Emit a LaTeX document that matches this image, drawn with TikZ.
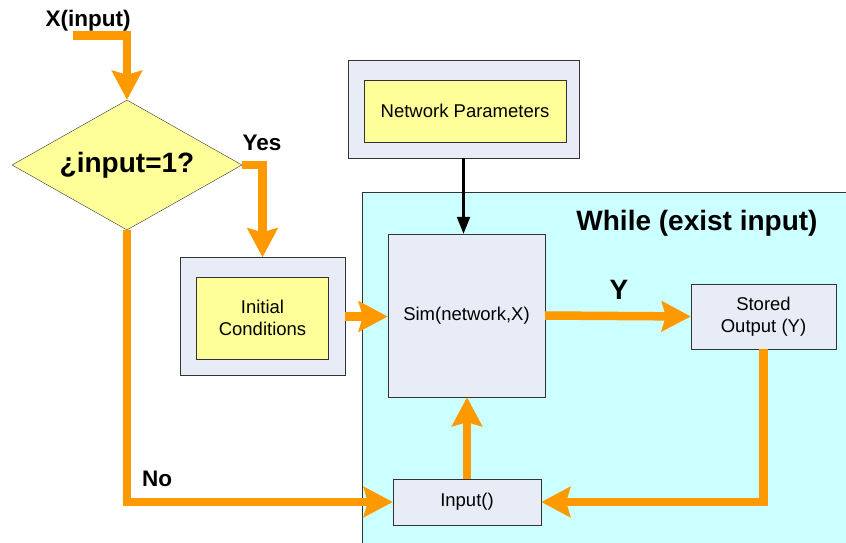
\documentclass[tikz,border=0pt]{standalone}
\usepackage{fontspec}
\setmainfont{Liberation Sans}
\usetikzlibrary{positioning,shapes.geometric,arrows.meta}

\definecolor{floworange}{HTML}{FF9900}
\definecolor{noteyellow}{HTML}{FFFF99}
\definecolor{boxblue}{HTML}{E7ECF7}
\definecolor{loopcyan}{HTML}{CCFFFF}

\begin{document}
\begin{tikzpicture}[x=1pt, y=-1pt,
    framenode/.style={rectangle, draw=black!80, fill=boxblue, thin, inner sep=0pt},
    yellownode/.style={rectangle, draw=black!80, fill=noteyellow, thin, inner sep=0pt, align=center, font=\fontsize{18.5}{22}\selectfont},
    blocknode/.style={framenode, align=center, font=\fontsize{18.5}{22}\selectfont},
    decisionnode/.style={diamond, draw=black!80, fill=noteyellow, thin, inner sep=0pt, shape aspect=1.77, minimum width=230pt, minimum height=130pt, font=\fontsize{28}{33}\selectfont\bfseries},
    labelnode/.style={inner sep=0pt, font=\fontsize{22.5}{27}\selectfont\bfseries},
    flow/.style={draw=floworange, line width=8.5pt, -{Stealth[length=29pt, width=30pt, inset=4pt]}},
    ctrl/.style={draw=black, line width=2.2pt, -{Triangle[length=17pt, width=13pt]}}
   ]
   \useasboundingbox (0,0) rectangle (846,543);

   % loop region
   \fill[loopcyan] (362,192) rectangle (846,543);
   \draw[black!80, thin] (362,543) |- (846,192);
   \node[labelnode, font=\fontsize{28}{33}\selectfont\bfseries] (looptitle) at (697,223) {While (exist input)};

   \node[framenode, minimum width=231pt, minimum height=98pt] (paramsframe) at (463.5,109) {};
   \node[yellownode, minimum width=202pt, minimum height=62pt] (params) at (465,111) {Network Parameters};
   \node[decisionnode] (cond) at (127,165) {¿input=1?};
   \node[framenode, minimum width=165pt, minimum height=118pt] (initframe) at (262.5,316.5) {};
   \node[yellownode, minimum width=132pt, minimum height=82pt] (init) at (262.5,318) {Initial\\Conditions};
   \node[blocknode, minimum width=157pt, minimum height=163pt] (sim) at (466.5,315.5) {Sim(network,X)};
   \node[blocknode, minimum width=145pt, minimum height=65pt] (stored) at (763.5,316.5) {Stored\\Output (Y)};
   \node[blocknode, minimum width=148pt, minimum height=46pt] (inputbox) at (467,502) {Input()};

   \node[labelnode] (xlabel) at (88,21) {X(input)};
   \node[labelnode] (yeslabel) at (262,143) {Yes};
   \node[labelnode] (nolabel) at (157,479) {No};
   \node[labelnode, font=\fontsize{28}{33}\selectfont\bfseries] (ylabel) at (619,290) {Y};
   \coordinate (xstart) at (73,35.5);

   \draw[flow] (xstart) -| (cond.north);
   \draw[flow] (cond.east) -| (initframe.north);
   \draw[flow] (cond.south) |- (inputbox.west);
   \draw[flow] (initframe.east) -- (initframe.east -| sim.west);
   \draw[flow] (sim.east) -- (stored.west);
   \draw[flow] (stored.south) |- (inputbox.east);
   \draw[flow] (inputbox.north) -- (inputbox.north |- sim.south);
   \draw[ctrl] (paramsframe.south) -- (paramsframe.south |- sim.north);
\end{tikzpicture}
\end{document}
